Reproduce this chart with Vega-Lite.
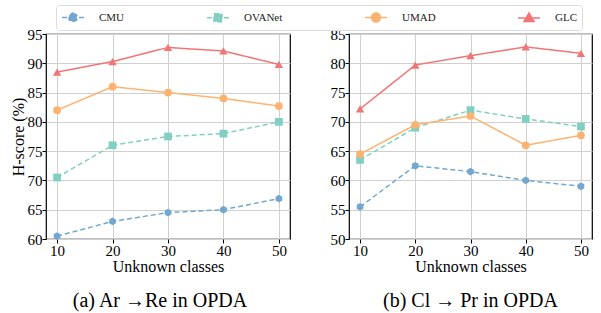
{
  "$schema": "https://vega.github.io/schema/vega-lite/v6.json",
  "autosize": {"type": "pad"},
  "padding": {"left": 9, "right": 3, "top": 4, "bottom": 3},
  "datasets": {
    "scores": [
      {"pair": "a", "method": "CMU", "classes": 10, "hscore": 60.5},
      {"pair": "a", "method": "CMU", "classes": 20, "hscore": 63.0},
      {"pair": "a", "method": "CMU", "classes": 30, "hscore": 64.5},
      {"pair": "a", "method": "CMU", "classes": 40, "hscore": 65.0},
      {"pair": "a", "method": "CMU", "classes": 50, "hscore": 66.9},
      {"pair": "a", "method": "OVANet", "classes": 10, "hscore": 70.5},
      {"pair": "a", "method": "OVANet", "classes": 20, "hscore": 76.0},
      {"pair": "a", "method": "OVANet", "classes": 30, "hscore": 77.5},
      {"pair": "a", "method": "OVANet", "classes": 40, "hscore": 78.0},
      {"pair": "a", "method": "OVANet", "classes": 50, "hscore": 80.0},
      {"pair": "a", "method": "UMAD", "classes": 10, "hscore": 82.0},
      {"pair": "a", "method": "UMAD", "classes": 20, "hscore": 86.0},
      {"pair": "a", "method": "UMAD", "classes": 30, "hscore": 85.0},
      {"pair": "a", "method": "UMAD", "classes": 40, "hscore": 84.0},
      {"pair": "a", "method": "UMAD", "classes": 50, "hscore": 82.7},
      {"pair": "a", "method": "GLC", "classes": 10, "hscore": 88.5},
      {"pair": "a", "method": "GLC", "classes": 20, "hscore": 90.3},
      {"pair": "a", "method": "GLC", "classes": 30, "hscore": 92.7},
      {"pair": "a", "method": "GLC", "classes": 40, "hscore": 92.1},
      {"pair": "a", "method": "GLC", "classes": 50, "hscore": 89.8},
      {"pair": "b", "method": "CMU", "classes": 10, "hscore": 55.5},
      {"pair": "b", "method": "CMU", "classes": 20, "hscore": 62.5},
      {"pair": "b", "method": "CMU", "classes": 30, "hscore": 61.5},
      {"pair": "b", "method": "CMU", "classes": 40, "hscore": 60.0},
      {"pair": "b", "method": "CMU", "classes": 50, "hscore": 59.0},
      {"pair": "b", "method": "OVANet", "classes": 10, "hscore": 63.5},
      {"pair": "b", "method": "OVANet", "classes": 20, "hscore": 69.0},
      {"pair": "b", "method": "OVANet", "classes": 30, "hscore": 72.0},
      {"pair": "b", "method": "OVANet", "classes": 40, "hscore": 70.5},
      {"pair": "b", "method": "OVANet", "classes": 50, "hscore": 69.2},
      {"pair": "b", "method": "UMAD", "classes": 10, "hscore": 64.5},
      {"pair": "b", "method": "UMAD", "classes": 20, "hscore": 69.5},
      {"pair": "b", "method": "UMAD", "classes": 30, "hscore": 71.0},
      {"pair": "b", "method": "UMAD", "classes": 40, "hscore": 66.0},
      {"pair": "b", "method": "UMAD", "classes": 50, "hscore": 67.7},
      {"pair": "b", "method": "GLC", "classes": 10, "hscore": 72.2},
      {"pair": "b", "method": "GLC", "classes": 20, "hscore": 79.7},
      {"pair": "b", "method": "GLC", "classes": 30, "hscore": 81.3},
      {"pair": "b", "method": "GLC", "classes": 40, "hscore": 82.8},
      {"pair": "b", "method": "GLC", "classes": 50, "hscore": 81.7}
    ]
  },
  "data": {"name": "scores"},
  "spacing": 38,
  "resolve": {
    "scale": {"color": "shared", "strokeDash": "shared", "x": "independent", "y": "independent"},
    "legend": {"color": "shared"}
  },
  "hconcat": [
    {
      "width": 244,
      "height": 205,
      "title": {"text": "(a) Ar →Re in OPDA", "orient": "bottom", "offset": 17, "dx": -8},
      "transform": [{"filter": "datum.pair === 'a'"}],
      "encoding": {
        "x": {"field": "classes", "type": "quantitative", "scale": {"domain": [8, 52], "nice": false, "zero": false}, "axis": {"values": [10, 20, 30, 40, 50], "title": "Unknown classes", "titleFont": "Liberation Serif", "titleFontWeight": "normal", "labelFont": "Liberation Serif"}},
        "y": {"field": "hscore", "type": "quantitative", "scale": {"domain": [60, 95], "nice": false, "zero": false}, "axis": {"values": [60, 65, 70, 75, 80, 85, 90, 95], "title": "H-score (%)", "titleFont": "Liberation Serif", "titleFontWeight": "normal", "labelFont": "Liberation Serif"}},
        "color": {
          "field": "method", "type": "nominal",
          "scale": {"domain": ["CMU", "OVANet", "UMAD", "GLC"], "range": ["#73a7cf", "#81cfc2", "#fdb36f", "#f27474"]},
          "legend": {
            "orient": "none", "legendX": 10, "legendY": -29, "direction": "horizontal", "columns": 4, "gridAlign": "each", "columnPadding": 79,
            "title": null, "labelFont": "Liberation Serif", "labelFontWeight": "normal", "labelFontSize": 11, "labelColor": "#222222", "labelOffset": 23,
            "symbolSize": 169, "symbolStrokeWidth": 1.5, "symbolOpacity": 1, "strokeColor": "#dcdcdc", "fillColor": "white", "cornerRadius": 3, "padding": 5,
            "symbolType": {"expr": "datum.value === 'CMU' ? 'M-1,0H-0.23M1.62,0H2.38M0.69,-0.69L1.29,-0.35L1.29,0.35L0.69,0.69L0.09,0.35L0.09,-0.35Z' : datum.value === 'OVANet' ? 'M-1,0H-0.23M1.62,0H2.38M0.08,-0.62H1.31V0.62H0.08Z' : datum.value === 'UMAD' ? 'M-1,0H2.38M1.38,0A0.69,0.69,0,1,1,0,0A0.69,0.69,0,1,1,1.38,0Z' : 'M-1,0H2.38M0.69,-0.77L1.46,0.54L-0.08,0.54Z'"},
            "symbolStrokeColor": {"expr": "datum.value === 'CMU' ? '#73a7cf' : datum.value === 'OVANet' ? '#81cfc2' : datum.value === 'UMAD' ? '#fdb36f' : '#f27474'"},
            "symbolFillColor": {"expr": "datum.value === 'CMU' ? '#73a7cf' : datum.value === 'OVANet' ? '#81cfc2' : datum.value === 'UMAD' ? '#fdb36f' : '#f27474'"}
          }
        }
      },
      "layer": [
        {"mark": {"type": "line", "strokeWidth": 1.5}, "encoding": {"strokeDash": {"field": "method", "type": "nominal", "scale": {"domain": ["CMU", "OVANet", "UMAD", "GLC"], "range": [[5, 3], [5, 3], [1, 0], [1, 0]]}, "legend": null}}},
        {"transform": [{"filter": "datum.method === 'CMU'"}], "mark": {"type": "point", "filled": true, "size": 60, "opacity": 1, "shape": "M0,-1L0.866,-0.5L0.866,0.5L0,1L-0.866,0.5L-0.866,-0.5Z"}},
        {"transform": [{"filter": "datum.method === 'OVANet'"}], "mark": {"type": "point", "filled": true, "size": 60, "opacity": 1, "shape": "square"}},
        {"transform": [{"filter": "datum.method === 'UMAD'"}], "mark": {"type": "point", "filled": true, "size": 60, "opacity": 1, "shape": "circle"}},
        {"transform": [{"filter": "datum.method === 'GLC'"}], "mark": {"type": "point", "filled": true, "size": 70, "opacity": 1, "shape": "triangle-up"}}
      ]
    },
    {
      "width": 243,
      "height": 205,
      "title": {"text": "(b) Cl → Pr in OPDA", "orient": "bottom", "offset": 17},
      "transform": [{"filter": "datum.pair === 'b'"}],
      "encoding": {
        "x": {"field": "classes", "type": "quantitative", "scale": {"domain": [8, 52], "nice": false, "zero": false}, "axis": {"values": [10, 20, 30, 40, 50], "title": "Unknown classes", "titleFont": "Liberation Serif", "titleFontWeight": "normal", "labelFont": "Liberation Serif"}},
        "y": {"field": "hscore", "type": "quantitative", "scale": {"domain": [50, 85], "nice": false, "zero": false}, "axis": {"values": [50, 55, 60, 65, 70, 75, 80, 85], "title": null, "labelFont": "Liberation Serif"}},
        "color": {"field": "method", "type": "nominal", "scale": {"domain": ["CMU", "OVANet", "UMAD", "GLC"], "range": ["#73a7cf", "#81cfc2", "#fdb36f", "#f27474"]}, "legend": null}
      },
      "layer": [
        {"mark": {"type": "line", "strokeWidth": 1.5}, "encoding": {"strokeDash": {"field": "method", "type": "nominal", "scale": {"domain": ["CMU", "OVANet", "UMAD", "GLC"], "range": [[5, 3], [5, 3], [1, 0], [1, 0]]}, "legend": null}}},
        {"transform": [{"filter": "datum.method === 'CMU'"}], "mark": {"type": "point", "filled": true, "size": 60, "opacity": 1, "shape": "M0,-1L0.866,-0.5L0.866,0.5L0,1L-0.866,0.5L-0.866,-0.5Z"}},
        {"transform": [{"filter": "datum.method === 'OVANet'"}], "mark": {"type": "point", "filled": true, "size": 60, "opacity": 1, "shape": "square"}},
        {"transform": [{"filter": "datum.method === 'UMAD'"}], "mark": {"type": "point", "filled": true, "size": 60, "opacity": 1, "shape": "circle"}},
        {"transform": [{"filter": "datum.method === 'GLC'"}], "mark": {"type": "point", "filled": true, "size": 70, "opacity": 1, "shape": "triangle-up"}}
      ]
    }
  ],
  "config": {
    "font": "Liberation Serif",
    "background": "white",
    "view": {"stroke": "black", "strokeWidth": 1.2},
    "axis": {
      "grid": true, "gridColor": "#d0d0d0", "gridWidth": 1, "domain": false,
      "ticks": true, "tickColor": "black", "tickSize": 4, "tickWidth": 1,
      "labelFont": "Liberation Serif", "labelFontSize": 15, "labelColor": "black", "labelPadding": 0,
      "titleFont": "Liberation Serif", "titleFontSize": 16, "titleFontWeight": "normal", "titleColor": "black"
    },
    "axisX": {"titlePadding": 0, "labelFlush": false},
    "axisY": {"titlePadding": 1, "labelFlush": false},
    "legend": {"labelFont": "Liberation Serif", "titleFont": "Liberation Serif"},
    "title": {"font": "Liberation Serif", "fontSize": 20, "fontWeight": "normal", "color": "black", "anchor": "middle"}
  }
}
